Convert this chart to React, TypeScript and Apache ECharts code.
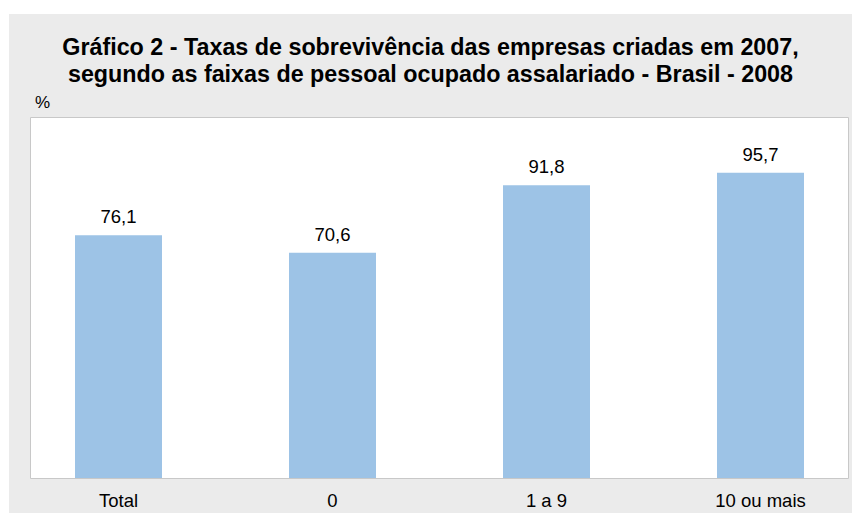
import React, { useEffect, useRef } from "react";
import * as echarts from "echarts";

const categories = ["Total", "0", "1 a 9", "10 ou mais"];
const values = [76.1, 70.6, 91.8, 95.7];
const titleLines = [
  "Gráfico 2 - Taxas de sobrevivência das empresas criadas em 2007,",
  "segundo as faixas de pessoal ocupado assalariado - Brasil - 2008",
];
const unitLabel = "%";

const FONT = "Liberation Sans, Arial, sans-serif";

export default function App() {
  const ref = useRef<HTMLDivElement>(null);
  useEffect(() => {
    if (!ref.current) return;
    const chart = echarts.init(ref.current, null, { renderer: "svg" });
    chart.setOption({
      animation: false,
      backgroundColor: "#ebebeb",
      graphic: [
        {
          type: "rect",
          z: -10,
          shape: { x: 21.5, y: 103.5, width: 818, height: 361 },
          style: { fill: "#ffffff", stroke: "#c8c8c8", lineWidth: 1 },
        },
        {
          type: "text",
          x: 421.5,
          y: 32.5,
          style: {
            text: titleLines[0],
            fontFamily: FONT,
            fontWeight: "bold",
            fontSize: 23.3,
            fill: "#000",
            align: "center",
            verticalAlign: "middle",
          },
        },
        {
          type: "text",
          x: 421.5,
          y: 59.5,
          style: {
            text: titleLines[1],
            fontFamily: FONT,
            fontWeight: "bold",
            fontSize: 23.3,
            fill: "#000",
            align: "center",
            verticalAlign: "middle",
          },
        },
        {
          type: "text",
          x: 26,
          y: 88,
          style: {
            text: unitLabel,
            fontFamily: FONT,
            fontSize: 17,
            fill: "#000",
            align: "left",
            verticalAlign: "middle",
          },
        },
      ],
      grid: {
        left: 2.5,
        width: 856,
        top: 103,
        bottom: 35,
        outerBoundsMode: "none",
        containLabel: false,
      },
      xAxis: {
        type: "category",
        data: categories,
        axisLine: { show: false },
        axisTick: { show: false },
        axisLabel: {
          margin: 13,
          fontFamily: FONT,
          fontSize: 18.5,
          color: "#000",
        },
      },
      yAxis: {
        type: "value",
        min: 0,
        max: 113.2,
        show: false,
        splitLine: { show: false },
      },
      series: [
        {
          type: "bar",
          data: values,
          barWidth: 87,
          itemStyle: { color: "#9dc3e6" },
          label: {
            show: true,
            position: "top",
            distance: 9,
            formatter: (p: any) => String(p.value).replace(".", ","),
            fontFamily: FONT,
            fontSize: 18.5,
            color: "#000",
          },
        },
      ],
    });
    return () => chart.dispose();
  }, []);
  return (
    <div
      ref={ref}
      style={{ position: "absolute", left: 9, top: 14, width: 843, height: 499 }}
    />
  );
}
